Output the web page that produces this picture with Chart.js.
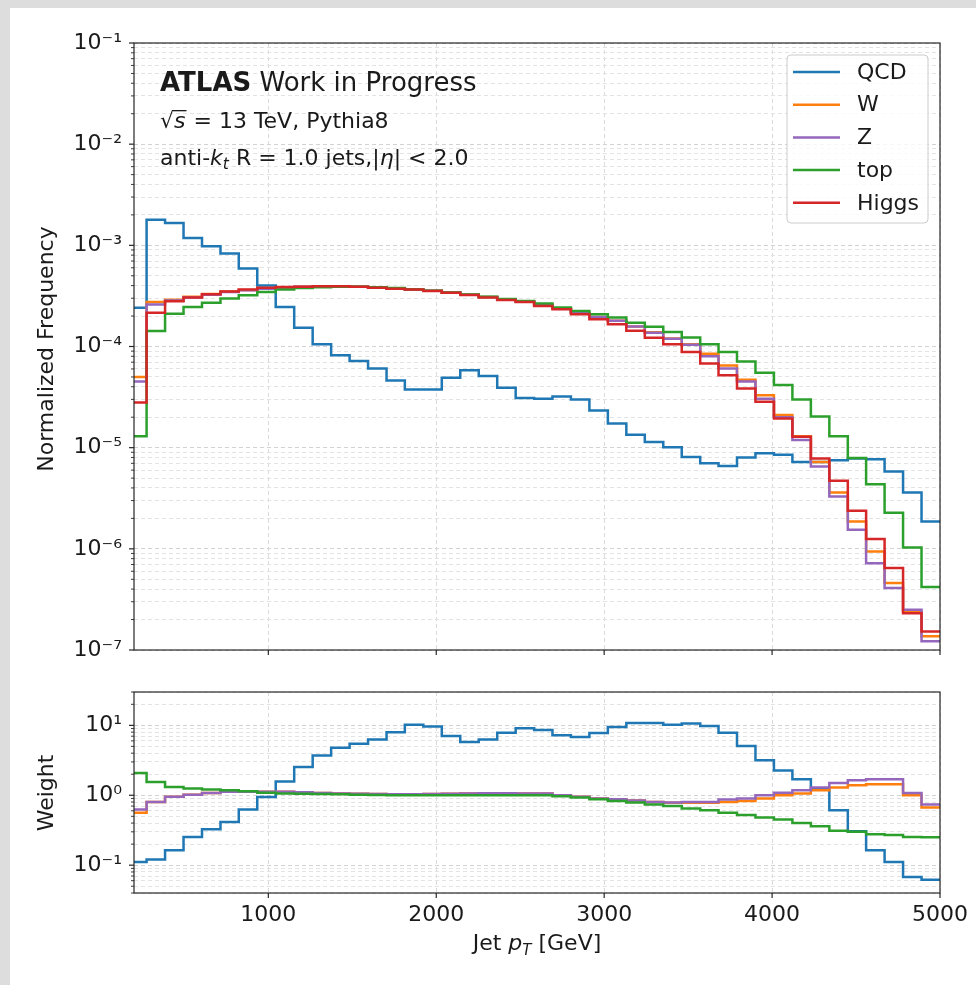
<!DOCTYPE html>
<html>
<head>
<meta charset="utf-8">
<script src="https://cdn.jsdelivr.net/npm/chart.js@4.4.1/dist/chart.umd.min.js"></script>
<style>
  html, body { margin: 0; padding: 0; background: #dddddd; }
  #page { position: absolute; left: 10px; top: 8px; width: 966px; height: 977px; background: #fff; }
  canvas { position: absolute; left: 0; }
  #top { top: 0; }
  #bottom { top: 660px; }
</style>
</head>
<body>
<div id="page"></div>
<canvas id="top" width="976" height="680"></canvas>
<canvas id="bottom" width="976" height="325"></canvas>
<script>
// bin edges of the jet pT histograms (GeV), first bin is cut by the axis at 200
var binEdges = [200, 275, 385, 495, 605, 715, 824, 934, 1044, 1154,
  1264, 1374, 1484, 1594, 1704, 1813, 1923, 2033, 2143, 2253,
  2363, 2473, 2583, 2692, 2802, 2912, 3022, 3132, 3242, 3352,
  3462, 3572, 3681, 3791, 3901, 4011, 4121, 4231, 4341, 4451,
  4560, 4670, 4780, 4890, 5000];

var samples = ["QCD", "W", "Z", "top", "Higgs"];
var colors = ["#1f77b4", "#ff7f0e", "#9467bd", "#2ca02c", "#d62728"];

// normalized frequency per bin
var freqQCD = [2.42e-4, 1.79e-3, 1.66e-3, 1.18e-3, 9.8e-4, 8.3e-4, 5.9e-4, 4.0e-4, 2.46e-4, 1.53e-4,
  1.05e-4, 8.2e-5, 7.2e-5, 6.05e-5, 4.6e-5, 3.76e-5, 3.76e-5, 4.9e-5, 5.83e-5, 5.1e-5,
  3.9e-5, 3.1e-5, 3.04e-5, 3.2e-5, 3.0e-5, 2.33e-5, 1.73e-5, 1.34e-5, 1.14e-5, 1.01e-5,
  8.1e-6, 7.0e-6, 6.6e-6, 8.0e-6, 8.8e-6, 8.5e-6, 7.2e-6, 7.2e-6, 7.5e-6, 7.8e-6,
  7.7e-6, 5.8e-6, 3.6e-6, 1.86e-6];
var freqW = [5.0e-5, 2.75e-4, 2.9e-4, 3.1e-4, 3.3e-4, 3.5e-4, 3.62e-4, 3.75e-4, 3.85e-4, 3.9e-4,
  3.95e-4, 3.95e-4, 3.9e-4, 3.82e-4, 3.74e-4, 3.66e-4, 3.55e-4, 3.42e-4, 3.25e-4, 3.08e-4,
  2.92e-4, 2.78e-4, 2.58e-4, 2.38e-4, 2.15e-4, 1.96e-4, 1.8e-4, 1.58e-4, 1.38e-4, 1.2e-4,
  1.05e-4, 8.5e-5, 6.5e-5, 4.7e-5, 3.3e-5, 2.1e-5, 1.3e-5, 7.2e-6, 3.6e-6, 1.86e-6,
  9.4e-7, 4.6e-7, 2.4e-7, 1.37e-7];
var freqZ = [4.5e-5, 2.6e-4, 2.85e-4, 3.05e-4, 3.25e-4, 3.45e-4, 3.6e-4, 3.72e-4, 3.82e-4, 3.9e-4,
  3.95e-4, 3.95e-4, 3.9e-4, 3.82e-4, 3.74e-4, 3.66e-4, 3.55e-4, 3.42e-4, 3.25e-4, 3.08e-4,
  2.92e-4, 2.78e-4, 2.58e-4, 2.38e-4, 2.15e-4, 1.96e-4, 1.8e-4, 1.58e-4, 1.37e-4, 1.19e-4,
  1.04e-4, 8.0e-5, 6.05e-5, 4.5e-5, 3.05e-5, 2.0e-5, 1.19e-5, 6.5e-6, 3.3e-6, 1.54e-6,
  7.2e-7, 4.1e-7, 2.5e-7, 1.22e-7];
var freqTop = [1.3e-5, 1.42e-4, 2.11e-4, 2.46e-4, 2.7e-4, 2.98e-4, 3.21e-4, 3.46e-4, 3.66e-4, 3.78e-4,
  3.85e-4, 3.9e-4, 3.9e-4, 3.85e-4, 3.78e-4, 3.68e-4, 3.56e-4, 3.42e-4, 3.26e-4, 3.1e-4,
  2.95e-4, 2.82e-4, 2.66e-4, 2.43e-4, 2.24e-4, 2.08e-4, 1.93e-4, 1.72e-4, 1.57e-4, 1.39e-4,
  1.23e-4, 1.05e-4, 8.8e-5, 7.1e-5, 5.5e-5, 4.16e-5, 3.0e-5, 2.03e-5, 1.3e-5, 7.9e-6,
  4.35e-6, 2.27e-6, 1.03e-6, 4.2e-7];
var freqHiggs = [2.8e-5, 2.16e-4, 2.8e-4, 3.05e-4, 3.28e-4, 3.5e-4, 3.65e-4, 3.8e-4, 3.88e-4, 3.9e-4,
  3.95e-4, 3.95e-4, 3.9e-4, 3.8e-4, 3.72e-4, 3.66e-4, 3.54e-4, 3.4e-4, 3.22e-4, 3.05e-4,
  2.88e-4, 2.75e-4, 2.52e-4, 2.33e-4, 2.08e-4, 1.86e-4, 1.66e-4, 1.43e-4, 1.22e-4, 1.05e-4,
  8.8e-5, 6.8e-5, 5.2e-5, 3.85e-5, 2.84e-5, 1.94e-5, 1.28e-5, 7.8e-6, 4.7e-6, 2.38e-6,
  1.25e-6, 6.45e-7, 2.31e-7, 1.52e-7];

// weights per bin (lower panel)
var weightQCD = [0.111, 0.121, 0.164, 0.254, 0.327, 0.416, 0.625, 0.945, 1.58, 2.54,
  3.72, 4.8, 5.46, 6.3, 8.0, 10.2, 9.67, 7.03, 5.78, 6.3,
  7.85, 9.1, 8.6, 7.2, 6.8, 7.8, 9.45, 10.8, 10.8, 10.2,
  10.6, 9.8, 7.85, 5.06, 3.16, 2.27, 1.69, 1.25, 0.61, 0.306,
  0.164, 0.111, 0.068, 0.062];
var weightW = [0.56, 0.80, 0.95, 1.02, 1.08, 1.12, 1.12, 1.12, 1.12, 1.1,
  1.08, 1.06, 1.05, 1.04, 1.03, 1.03, 1.04, 1.05, 1.06, 1.07,
  1.07, 1.06, 1.06, 1.0, 0.95, 0.9, 0.88, 0.84, 0.80, 0.78,
  0.78, 0.78, 0.80, 0.83, 0.9, 1.0, 1.06, 1.18, 1.29, 1.39,
  1.44, 1.44, 1.0, 0.67];
var weightZ = [0.625, 0.80, 0.95, 1.02, 1.08, 1.12, 1.12, 1.12, 1.12, 1.1,
  1.08, 1.06, 1.05, 1.04, 1.03, 1.03, 1.04, 1.05, 1.06, 1.07,
  1.07, 1.06, 1.06, 1.0, 0.95, 0.9, 0.88, 0.84, 0.80, 0.79,
  0.80, 0.80, 0.87, 0.9, 1.0, 1.09, 1.18, 1.29, 1.5, 1.64,
  1.69, 1.69, 1.08, 0.74];
var weightTop = [2.08, 1.55, 1.31, 1.25, 1.21, 1.18, 1.14, 1.09, 1.06, 1.05,
  1.04, 1.03, 1.02, 1.01, 1.0, 1.0, 1.0, 1.0, 1.0, 1.0,
  1.0, 1.0, 1.0, 0.97, 0.93, 0.88, 0.83, 0.79, 0.74, 0.70,
  0.645, 0.61, 0.56, 0.52, 0.48, 0.45, 0.40, 0.36, 0.31, 0.30,
  0.277, 0.27, 0.254, 0.25];

var ptTicks = [1000, 2000, 3000, 4000, 5000];
var freqTicks = [1e-7, 1e-6, 1e-5, 1e-4, 1e-3, 1e-2, 1e-1];
var freqTickLabels = ["10⁻⁷", "10⁻⁶", "10⁻⁵", "10⁻⁴", "10⁻³", "10⁻²", "10⁻¹"];
var weightTicks = [0.1, 1, 10];
var weightTickLabels = ["10⁻¹", "10⁰", "10¹"];

var FAM = "'DejaVu Sans'";
var INK = "#1a1a1a";
function f(size, style) { return (style ? style + " " : "") + size + "px " + FAM; }

function stepData(vals) {
  var pts = vals.map(function(v, i) { return {x: binEdges[i], y: v}; });
  pts.push({x: binEdges[binEdges.length - 1], y: vals[vals.length - 1]});
  return pts;
}

function makeSets(series) {
  return series.map(function(vals, i) {
    return {
      label: samples[i], data: stepData(vals),
      borderColor: colors[i], borderWidth: 2.5,
      stepped: "before", pointRadius: 0, fill: false,
      order: series.length - i
    };
  });
}

function logTicks(min, max) {
  var out = [];
  for (var e = Math.floor(Math.log10(min)); e <= Math.ceil(Math.log10(max)); e++) {
    for (var m = 1; m <= 9; m++) {
      var v = m * Math.pow(10, e);
      if (v < min * 0.999 || v > max * 1.001) continue;
      out.push({value: v, major: m === 1});
    }
  }
  return out;
}

function yScale(min, max, majors, labels) {
  return {
    type: "logarithmic", min: min, max: max,
    afterBuildTicks: function(s) { s.ticks = logTicks(min, max); },
    afterFit: function(s) { s.width = 134; s.paddingTop = 0; s.paddingBottom = 0; },
    ticks: {
      autoSkip: false, padding: 12, color: INK,
      font: {family: "DejaVu Sans", size: 22},
      callback: function(v) {
        var k = majors.findIndex(function(t) { return Math.abs(Math.log10(t) - Math.log10(v)) < 1e-6; });
        return k < 0 ? "" : labels[k];
      }
    },
    grid: {
      drawTicks: false, lineWidth: 1,
      color: function(c) { return c.tick && c.tick.major ? "#d2d2d2" : "#e3e3e3"; }
    },
    border: {display: false, dash: [4, 3]}
  };
}

function xScale(showLabels, height) {
  return {
    type: "linear", min: 200, max: 5000,
    afterBuildTicks: function(s) { s.ticks = ptTicks.map(function(v) { return {value: v, major: true}; }); },
    afterFit: function(s) { s.height = height; s.paddingLeft = 0; s.paddingRight = 0; },
    ticks: {
      display: showLabels, autoSkip: false, maxRotation: 0, padding: 9, color: INK,
      font: {family: "DejaVu Sans", size: 22},
      callback: function(v) { return String(v); }
    },
    grid: {drawTicks: false, lineWidth: 1, color: "#dadada"},
    border: {display: false, dash: [4, 3]}
  };
}

// spines and tick marks like matplotlib
var frame = {
  id: "frame",
  afterDraw: function(chart) {
    var ctx = chart.ctx, a = chart.chartArea;
    ctx.save();
    ctx.strokeStyle = "#262626";
    ctx.lineWidth = 1.2;
    ctx.strokeRect(a.left, a.top, a.right - a.left, a.bottom - a.top);
    var ys = chart.scales.y;
    ys.ticks.forEach(function(t) {
      var py = ys.getPixelForValue(t.value);
      var len = t.major ? 5 : 3;
      ctx.lineWidth = t.major ? 1.2 : 0.9;
      ctx.beginPath(); ctx.moveTo(a.left - len, py); ctx.lineTo(a.left, py); ctx.stroke();
    });
    var xs = chart.scales.x;
    ctx.lineWidth = 1.2;
    xs.ticks.forEach(function(t) {
      var px = xs.getPixelForValue(t.value);
      ctx.beginPath(); ctx.moveTo(px, a.bottom); ctx.lineTo(px, a.bottom + 5); ctx.stroke();
    });
    ctx.restore();
  }
};

function drawRuns(ctx, x, y, parts) {
  parts.forEach(function(p) {
    ctx.font = p[1];
    ctx.fillText(p[0], x, y + (p[2] || 0));
    x += ctx.measureText(p[0]).width;
  });
  return x;
}
function runsWidth(ctx, parts) {
  var w = 0;
  parts.forEach(function(p) { ctx.font = p[1]; w += ctx.measureText(p[0]).width; });
  return w;
}

function drawLegend(ctx) {
  var bx = 787, by = 55, bw = 141, bh = 168, r = 4;
  ctx.beginPath();
  ctx.moveTo(bx + r, by);
  ctx.lineTo(bx + bw - r, by); ctx.arcTo(bx + bw, by, bx + bw, by + r, r);
  ctx.lineTo(bx + bw, by + bh - r); ctx.arcTo(bx + bw, by + bh, bx + bw - r, by + bh, r);
  ctx.lineTo(bx + r, by + bh); ctx.arcTo(bx, by + bh, bx, by + bh - r, r);
  ctx.lineTo(bx, by + r); ctx.arcTo(bx, by, bx + r, by, r);
  ctx.closePath();
  ctx.fillStyle = "rgba(255,255,255,0.8)";
  ctx.fill();
  ctx.strokeStyle = "#cccccc";
  ctx.lineWidth = 1;
  ctx.stroke();
  samples.forEach(function(name, i) {
    var y = 72 + i * 32.7;
    ctx.strokeStyle = colors[i];
    ctx.lineWidth = 2.5;
    ctx.beginPath(); ctx.moveTo(793, y); ctx.lineTo(840, y); ctx.stroke();
    ctx.fillStyle = INK;
    ctx.font = f(22);
    ctx.textBaseline = "middle";
    ctx.fillText(name, 857, y + 1);
  });
}

var topText = {
  id: "topText",
  afterDraw: function(chart) {
    var ctx = chart.ctx;
    ctx.save();
    ctx.fillStyle = INK;
    ctx.textBaseline = "alphabetic";
    drawRuns(ctx, 160, 91, [["ATLAS", f(26, "bold")], [" Work in Progress", f(26)]]);

    // sqrt(s) = 13 TeV, Pythia8
    var x0 = 160, yb = 128;
    ctx.font = f(22);
    ctx.fillText("√", x0, yb);
    var wr = ctx.measureText("√").width;
    ctx.font = f(22, "italic");
    ctx.fillText("s", x0 + wr, yb);
    var ws = ctx.measureText("s").width;
    ctx.fillRect(x0 + wr - 1, yb - 18, ws + 2, 1.3);
    ctx.font = f(22);
    ctx.fillText(" = 13 TeV, Pythia8", x0 + wr + ws + 1, yb);

    drawRuns(ctx, 160, 165, [["anti-", f(22)], ["k", f(22, "italic")], ["t", f(15.5, "italic"), 4],
      [" R = 1.0 jets,|", f(22)], ["η", f(22, "italic")], ["| < 2.0", f(22)]]);

    drawLegend(ctx);

    ctx.fillStyle = INK;
    ctx.translate(47, 349);
    ctx.rotate(-Math.PI / 2);
    ctx.textAlign = "center";
    ctx.textBaseline = "middle";
    ctx.font = f(22);
    ctx.fillText("Normalized Frequency", 0, 0);
    ctx.restore();
  }
};

var bottomText = {
  id: "bottomText",
  afterDraw: function(chart) {
    var ctx = chart.ctx;
    ctx.save();
    ctx.fillStyle = INK;
    var parts = [["Jet ", f(22)], ["p", f(22, "italic")], ["T", f(15, "italic"), 5], [" [GeV]", f(22)]];
    var w = runsWidth(ctx, parts);
    ctx.textBaseline = "alphabetic";
    drawRuns(ctx, 537 - w / 2, 290, parts);

    ctx.translate(47, 133);
    ctx.rotate(-Math.PI / 2);
    ctx.textAlign = "center";
    ctx.textBaseline = "middle";
    ctx.font = f(22);
    ctx.fillText("Weight", 0, 0);
    ctx.restore();
  }
};

var common = {
  responsive: false, animation: false, devicePixelRatio: 1, events: [],
  plugins: {legend: {display: false}, tooltip: {enabled: false}}
};

new Chart(document.getElementById("top"), {
  type: "line",
  data: {datasets: makeSets([freqQCD, freqW, freqZ, freqTop, freqHiggs])},
  options: Object.assign({}, common, {
    layout: {padding: {top: 43, right: 36, left: 0, bottom: 0}},
    scales: {
      x: xScale(false, 30),
      y: yScale(1e-7, 1e-1, freqTicks, freqTickLabels)
    }
  }),
  plugins: [frame, topText]
});

new Chart(document.getElementById("bottom"), {
  type: "line",
  data: {datasets: makeSets([weightQCD, weightW, weightZ, weightTop])},
  options: Object.assign({}, common, {
    layout: {padding: {top: 32, right: 36, left: 0, bottom: 0}},
    scales: {
      x: xScale(true, 92),
      y: yScale(0.04, 30, weightTicks, weightTickLabels)
    }
  }),
  plugins: [frame, bottomText]
});
</script>
</body>
</html>
